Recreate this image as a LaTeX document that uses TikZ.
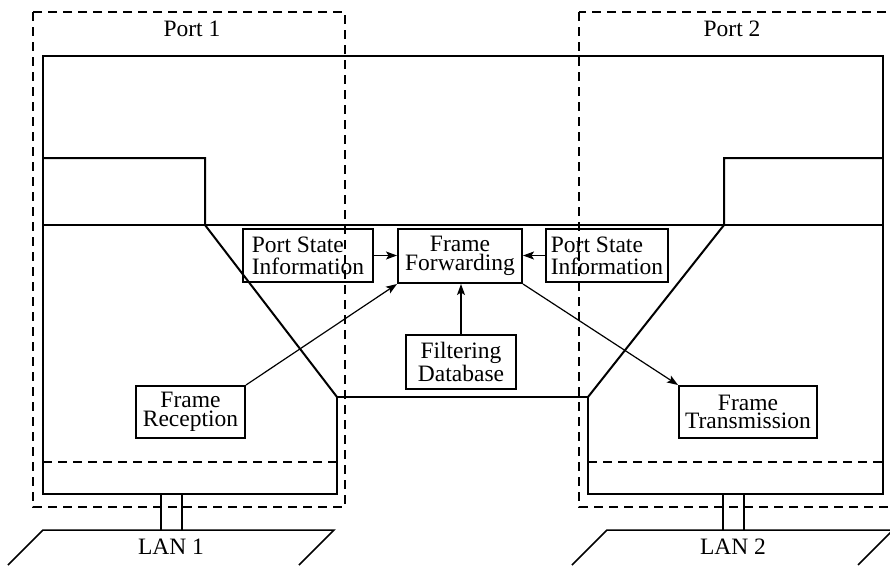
\documentclass[tikz,border=0pt]{standalone}
\usepackage{fontspec}
\setmainfont{Liberation Serif}
\usetikzlibrary{arrows.meta}
\begin{document}
\begin{tikzpicture}[x=1pt,y=-1pt,
  thickline/.style={line width=2pt},
  thinline/.style={line width=1.1pt},
  dashline/.style={line width=1.2pt, dash pattern=on 9pt off 6pt},
  box/.style={draw, line width=2pt, inner sep=0pt, align=center,
    font=\fontsize{23.5}{18.5}\selectfont},
  psbox/.style={box, align=left, font=\fontsize{23.5}{22}\selectfont},
  lbl/.style={inner sep=0pt, anchor=base, font=\fontsize{23.5}{23.5}\selectfont},
  arr/.style={line width=1.2pt, -{Stealth[length=11pt,width=8pt,inset=2.5pt]}}]
\useasboundingbox (0,0) rectangle (890,565);
\clip (0,0) rectangle (890,565);

% port dashed frames
\draw[dashline] (33,12) rectangle (345,507);
\draw[dashline] (579,12) rectangle (905,507);
\node[lbl] (p1) at (192,36) {Port 1};
\node[lbl] (p2) at (732,36) {Port 2};

% main outline
\draw[thickline] (43,56) -- (883,56) -- (883,494) -- (588,494) -- (588,397)
  -- (337,397) -- (337,494) -- (43,494) -- cycle;
\draw[thickline] (43,158) -- (205,158) -- (205,225) -- (337,397);
\draw[thickline] (883,158) -- (724,158) -- (724,225) -- (588,397);
\draw[thinline] (43,225) -- (883,225);
\draw[dashline] (43,462) -- (337,462);
\draw[dashline] (588,462) -- (883,462);

% LAN connections
\draw[thinline] (161,494) -- (161,530);
\draw[thinline] (182,494) -- (182,530);
\draw[thinline] (723,494) -- (723,530);
\draw[thinline] (744,494) -- (744,530);
\draw[line width=1.5pt] (8,565) -- (43,530) -- (334,530) -- (299,565);
\draw[line width=1.5pt] (572,565) -- (607,530) -- (893,530) -- (858,565);
\node[lbl] (lan1) at (171,554) {LAN 1};
\node[lbl] (lan2) at (733,554) {LAN 2};

% boxes
\node[psbox, minimum width=130pt, minimum height=53pt] (psl) at (308,255.5) {Port State\\Information};
\node[box, minimum width=124pt, minimum height=54pt] (ff) at (460,256) {Frame\\Forwarding};
\node[psbox, minimum width=122pt, minimum height=53pt] (psr) at (607,255.5) {Port State\\Information};
\node[box, minimum width=110pt, minimum height=54pt] (fd) at (461,362) {Filtering\\Database};
\node[box, minimum width=109pt, minimum height=52pt] (fr) at (190.5,412) {Frame\\Reception};
\node[box, minimum width=138pt, minimum height=52pt] (ft) at (748,412) {Frame\\Transmission};

% arrows
\draw[arr] (psl.east) -- (ff.west |- psl.east);
\draw[arr] (psr.west) -- (ff.east |- psr.west);
\draw[arr] (fd.north) -- (fd.north |- ff.south);
\draw[arr] (fr.north east) -- (ff.south west);
\draw[arr] (ff.south east) -- (ft.north west);
\end{tikzpicture}
\end{document}
